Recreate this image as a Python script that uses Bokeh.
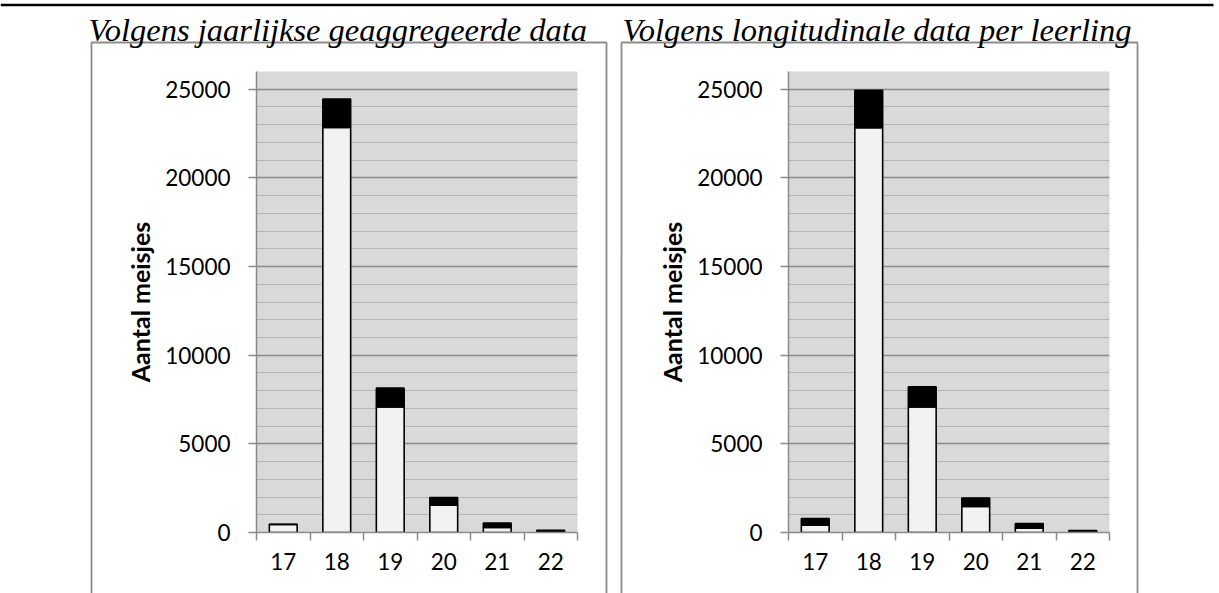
from bokeh.plotting import figure
from bokeh.models import Range1d, FixedTicker, Row, ColumnDataSource
from bokeh.core.properties import value
from bokeh.embed import file_html
from bokeh.resources import INLINE

# ---------------- data ----------------
ages = [17, 18, 19, 20, 21, 22]
agg_base = [450, 22850, 7080, 1545, 282, 20]
agg_total = [460, 24450, 8140, 1973, 530, 130]
lon_base = [417, 22830, 7086, 1466, 248, 20]
lon_total = [789, 24940, 8213, 1939, 507, 113]
y_ticks = [0, 5000, 10000, 15000, 20000, 25000]
y_tick_labels = ["0", "5000", "10000", "15000", "20000", "25000"]
y_max = 26000
titles = ["Volgens jaarlijkse geaggregeerde data", "Volgens longitudinale data per leerling"]
y_label = "Aantal meisjes"

# ---------------- styling ----------------
BG = "#d9d9d9"
MAJ = "#8a8a8a"
MIN = "#b4b4b4"
LIGHT = "#f2f2f2"
TICK_FONT = "Lato"
W, H = 1219, 593
FT, FB = 71, 532


def panel(fig_x0, width, FL, FR, base, total):
    p = figure(width=width, height=H, output_backend="svg", toolbar_location=None,
               x_range=Range1d(ages[0] - 0.5, ages[-1] + 0.5), y_range=Range1d(0, y_max),
               min_border_left=FL - fig_x0, min_border_right=fig_x0 + width - FR,
               min_border_top=FT, min_border_bottom=H - FB, tools="")
    p.background_fill_color = BG
    p.border_fill_color = "white"
    p.outline_line_color = None

    src = ColumnDataSource(dict(x=ages, base=base, total=total))
    p.vbar(x="x", bottom=0, top="base", width=0.52, source=src,
           fill_color=LIGHT, line_color="black", line_width=1.6)
    p.vbar(x="x", bottom="base", top="total", width=0.52, source=src,
           fill_color="black", line_color="black", line_width=1.6)

    # x axis: labels at ages, tick marks at category boundaries
    bounds = [a - 0.5 for a in ages] + [ages[-1] + 0.5]
    p.xaxis.ticker = FixedTicker(ticks=ages, minor_ticks=bounds)
    p.xaxis.axis_line_color = MAJ
    p.xaxis.axis_line_width = 1.5
    p.xaxis.major_tick_line_color = None
    p.xaxis.major_tick_out = 8
    p.xaxis.major_tick_in = 0
    p.xaxis.minor_tick_line_color = MAJ
    p.xaxis.minor_tick_line_width = 1.5
    p.xaxis.minor_tick_out = 8
    p.xaxis.minor_tick_in = 0
    p.xaxis.major_label_standoff = 12
    p.xaxis.major_label_text_font = TICK_FONT
    p.xaxis.major_label_text_font_size = "22.5px"
    p.xaxis.major_label_text_color = "black"

    minor_y = [v for v in range(0, y_max + 1, 1000) if v not in y_ticks]
    p.yaxis.ticker = FixedTicker(ticks=y_ticks, minor_ticks=minor_y)
    p.yaxis.major_label_overrides = dict(zip(y_ticks, y_tick_labels))
    p.yaxis.axis_line_color = MAJ
    p.yaxis.axis_line_width = 1.5
    p.yaxis.major_tick_line_color = MAJ
    p.yaxis.major_tick_line_width = 1.5
    p.yaxis.major_tick_out = 8
    p.yaxis.major_tick_in = 0
    p.yaxis.minor_tick_line_color = None
    p.yaxis.major_label_standoff = 18
    p.yaxis.major_label_text_font = TICK_FONT
    p.yaxis.major_label_text_font_size = "22.5px"
    p.yaxis.major_label_text_color = "black"
    p.yaxis.axis_label = y_label
    p.yaxis.axis_label_text_font = TICK_FONT
    p.yaxis.axis_label_text_font_style = "bold"
    p.yaxis.axis_label_text_font_size = "25px"
    p.yaxis.axis_label_text_color = "black"
    p.yaxis.axis_label_standoff = 7

    p.xgrid.grid_line_color = None
    p.ygrid.grid_line_color = MAJ
    p.ygrid.grid_line_width = 1.5
    p.ygrid.minor_grid_line_color = MIN
    p.ygrid.minor_grid_line_width = 1.2
    return p


p1 = panel(0, 614, 256, 577, agg_base, agg_total)
p2 = panel(614, 605, 788, 1109, lon_base, lon_total)
charts = Row(children=[p1, p2], spacing=0,
             styles={"position": "absolute", "left": "0px", "top": "0px", "z-index": "1"})

# ---------------- page decoration overlay (rule, boxes, titles) ----------------
d = figure(width=W, height=H, output_backend="svg", toolbar_location=None, tools="",
           x_range=Range1d(0, W), y_range=Range1d(H, 0), min_border=0,
           x_axis_type=None, y_axis_type=None,
           styles={"position": "absolute", "left": "0px", "top": "0px", "z-index": "2"})
d.title.visible = False
d.grid.visible = False
d.outline_line_color = None
d.background_fill_alpha = 0
d.border_fill_alpha = 0
d.quad(left=[0], right=[1213], top=[3.2], bottom=[5.8], fill_color="black", line_color=None)
d.multi_line(xs=[[91, 91, 606, 606], [621, 621, 1137, 1137]],
             ys=[[640, 42, 42, 640], [640, 42, 42, 640]],
             line_color="#8c8c8c", line_width=1.8)
d.text(x=[88, 622], y=[29, 29], text=titles, text_font=value("Liberation Serif"),
       text_font_style="italic", text_font_size="32.5px", text_color="black",
       text_baseline="alphabetic", text_align="left")

open("out.html", "w").write(file_html([charts, d], INLINE))
